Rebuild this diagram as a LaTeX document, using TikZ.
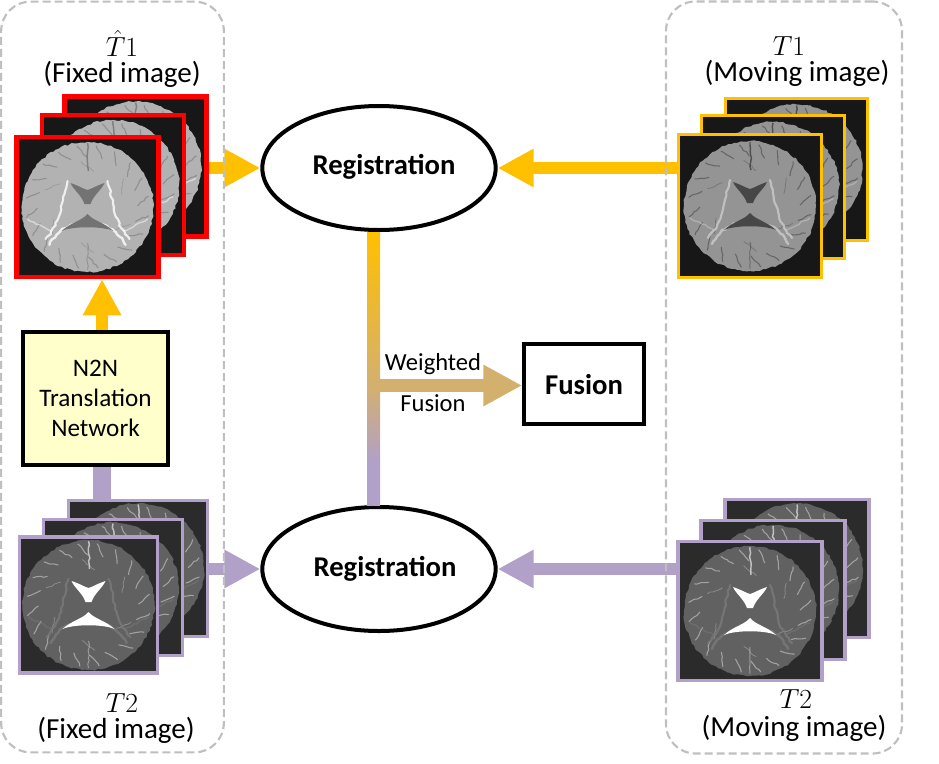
\documentclass[tikz,border=0pt]{standalone}
\usepackage{fontspec}
\setmainfont{Carlito}
\usetikzlibrary{arrows.meta,shapes.geometric,decorations.pathmorphing,calc}

\definecolor{goldline}{HTML}{FFC000}
\definecolor{lavline}{HTML}{B1A0C7}
\definecolor{tanline}{HTML}{D4B06F}
\definecolor{dashgray}{HTML}{BFBFBF}
\definecolor{notepale}{HTML}{FFFFCC}

\pgfdeclareverticalshading{barfade}{100bp}{color(0bp)=(lavline); color(33bp)=(lavline); color(47bp)=(tanline); color(75bp)=(goldline); color(100bp)=(goldline)}

\tikzset{
  dashbox/.style={draw=dashgray,line width=1.6pt,dash pattern=on 6pt off 3pt,rounded corners=22pt,inner sep=0pt},
  regnode/.style={draw,ellipse,line width=3pt,fill=white,minimum width=175pt,minimum height=93pt,inner sep=0pt},
  boldtext/.style={font=\fontsize{21.5}{25}\selectfont\bfseries},
  plaintext/.style={font=\fontsize{21.8}{25}\selectfont,inner sep=0pt},
  smalltext/.style={font=\fontsize{18.4}{22}\selectfont,inner sep=0pt},
  imgframe/.style={draw,line width=#1,inner sep=0pt},
  hatframe/.style={imgframe=3.4pt,draw=red,fill=black!91,minimum width=106.5pt,minimum height=105pt},
  toneframe/.style={imgframe=2.2pt,draw=goldline,fill=black!91,minimum width=107pt,minimum height=107pt},
  ttwoframe/.style={imgframe=2.4pt,draw=lavline,fill=black!83,minimum width=104pt,minimum height=102pt},
  ttwoframeb/.style={imgframe=2.4pt,draw=lavline,fill=black!83,minimum width=108pt,minimum height=104pt},
  goldarrow/.style={draw=goldline,line width=9.6pt,-{Triangle[length=27pt,width=27pt]}},
  lavarrow/.style={draw=lavline,line width=9.6pt,-{Triangle[length=27pt,width=27pt]}},
  tanarrow/.style={draw=tanline,line width=9.6pt,-{Triangle[length=29pt,width=29pt]}},
  rough/.style={decorate,decoration={random steps,segment length=2.5pt,amplitude=.7pt}},
  pics/brain/.style n args={4}{code={
    \fill[#1,rough] (0,0) ellipse [x radius=66,y radius=65];
    % sulci round the edge
    \foreach \a in {8,26,...,350}
      \draw[#4,opacity=.55,line width=.8pt,rough] (\a:62) -- (\a+9:50);
    \foreach \a in {22,82,...,322}
      \draw[#4,opacity=.35,line width=.6pt,rough] (\a:46) -- (\a+18:36);
    \draw[#4,opacity=.8,line width=1.1pt,rough] (0,-64) -- (1,-36);
    \draw[#4,opacity=.5,line width=.7pt,rough] (0,36) -- (0,63);
    % deep structures
    \draw[#2,opacity=.8,line width=1.6pt,line cap=round,rough] (-20,-26) .. controls (-27,-5) and (-24,12) .. (-42,32);
    \draw[#2,opacity=.8,line width=1.6pt,line cap=round,rough] (20,-26) .. controls (27,-5) and (24,12) .. (42,32);
    \draw[#2,opacity=.8,line width=1.8pt,line cap=round,rough] (-38,38) .. controls (-24,8) and (24,8) .. (38,38);
    \draw[#2,opacity=.5,line width=1pt,line cap=round,rough] (-60,12) -- (-36,24) (60,12) -- (36,24);
    \fill[#3] (-17,-24) .. controls (-8,-21) and (-4,-18) .. (0,-17) .. controls (4,-18) and (8,-21) .. (17,-24)
      .. controls (14,-17) and (6,-12) .. (3,-3) -- (-3,-3) .. controls (-6,-12) and (-14,-17) .. (-17,-24) -- cycle;
    \fill[#3] (-26,24) .. controls (-16,15) and (-6,14) .. (0,7) .. controls (6,14) and (16,15) .. (26,24)
      .. controls (15,19) and (-15,19) .. (-26,24) -- cycle;
  }}
}

\begin{document}
\begin{tikzpicture}[x=0.75pt,y=-0.75pt]
    \useasboundingbox (0,0) rectangle (939,764);

    % the two registration steps and the boxes
    \node[regnode] (regtop) at (379,168) {};
    \node[regnode] (regbot) at (379,569) {};
    \node[draw,line width=2.8pt,fill=white,minimum width=90pt,minimum height=60pt,inner sep=0pt] (fusion) at (584,384) {};
    \node[draw,line width=2.6pt,fill=notepale,minimum width=109pt,minimum height=100pt,inner sep=0pt,align=center,
          font=\fontsize{18.9}{22.5}\selectfont] (transnet) at (95.5,398.5) {N2N\\Translation\\Network};
    \node[boldtext] (regtoptext) at (384,167) {Registration};
    \node[boldtext] (regbottext) at (385,569) {Registration};
    \node[boldtext] (fusiontext) at (584,385) {Fusion};

    % image stacks, back to front
    \node[hatframe] (hatc) at (135.5,166.5) {};
    \pic at (hatc) {brain={black!30}{white}{black!55}{black!55}};
    \node[hatframe] (hatb) at (113,185) {};
    \pic at (hatb) {brain={black!30}{white}{black!55}{black!55}};
    \node[hatframe] (hata) at (87.5,207) {};
    \pic at (hata) {brain={black!30}{white}{black!55}{black!55}};

    \node[toneframe] (tonec) at (796.5,169.5) {};
    \pic at (tonec) {brain={black!42}{black!20}{black!72}{black!75}};
    \node[toneframe] (toneb) at (773,187) {};
    \pic at (toneb) {brain={black!42}{black!20}{black!72}{black!75}};
    \node[toneframe] (tonea) at (750,206) {};
    \pic at (tonea) {brain={black!42}{black!20}{black!72}{black!75}};

    \node[ttwoframe] (ttwoc) at (138,568.5) {};
    \pic at (ttwoc) {brain={black!62}{black!52}{white}{black!15}};
    \node[ttwoframe] (ttwob) at (113,587.5) {};
    \pic at (ttwob) {brain={black!62}{black!52}{white}{black!15}};
    \node[ttwoframe] (ttwoa) at (88.5,605) {};
    \pic at (ttwoa) {brain={black!62}{black!52}{white}{black!15}};

    \node[ttwoframeb] (ttwof) at (797,568.5) {};
    \pic at (ttwof) {brain={black!62}{black!52}{white}{black!15}};
    \node[ttwoframeb] (ttwoe) at (773,590) {};
    \pic at (ttwoe) {brain={black!62}{black!52}{white}{black!15}};
    \node[ttwoframeb] (ttwod) at (750,611) {};
    \pic at (ttwod) {brain={black!62}{black!52}{white}{black!15}};

    % connectors
    \coordinate (bartop) at ([xshift=-4pt]regtop.south);
    \coordinate (barbot) at ([xshift=-4pt]regbot.north);
    \coordinate (barjoin) at (371,385.5);
    \coordinate (stemtop) at ([xshift=4.9pt]transnet.north);
    \coordinate (stembot) at ([xshift=4.9pt]transnet.south);
    \shade[shading=barfade] ([xshift=-4.9pt]bartop) rectangle ([xshift=4.9pt]barbot);
    \draw[tanarrow] (barjoin) -- (barjoin -| fusion.west);

    \draw[goldarrow] (hatc.east |- regtop.west) -- (regtop.west);
    \draw[goldarrow] (tonea.west |- regtop.east) -- (regtop.east);
    \draw[goldarrow] (stemtop) -- (hata.south -| stemtop);
    \draw[lavline,line width=13.5pt] (stembot) -- (stembot |- ttwoc.north);
    \draw[lavarrow] (ttwoc.east |- regbot.west) -- (regbot.west);
    \draw[lavarrow] (ttwod.west |- regbot.east) -- (regbot.east);

    % dashed groups go over the arrows
    \node[dashbox,minimum width=167pt,minimum height=563pt] (fixedbox) at (112.5,377) {};
    \node[dashbox,minimum width=177pt,minimum height=564pt] (movingbox) at (784,377.5) {};

    % labels
    \node[plaintext] (hatname) at (122,43) {$\hat{T}1$};
    \node[plaintext] (hatrole) at (122,74) {(Fixed image)};
    \node[plaintext] (tonename) at (789,46) {$T1$};
    \node[plaintext] (tonerole) at (797,73) {(Moving image)};
    \node[plaintext] (ttwoname) at (122,703) {$T2$};
    \node[plaintext] (ttworole) at (116,730) {(Fixed image)};
    \node[plaintext] (ttwonameb) at (796,699) {$T2$};
    \node[plaintext] (ttworoleb) at (794,728) {(Moving image)};
    \node[smalltext] (weighted) at (433,364) {Weighted};
    \node[smalltext] (weightedb) at (433,403) {Fusion};
\end{tikzpicture}
\end{document}
